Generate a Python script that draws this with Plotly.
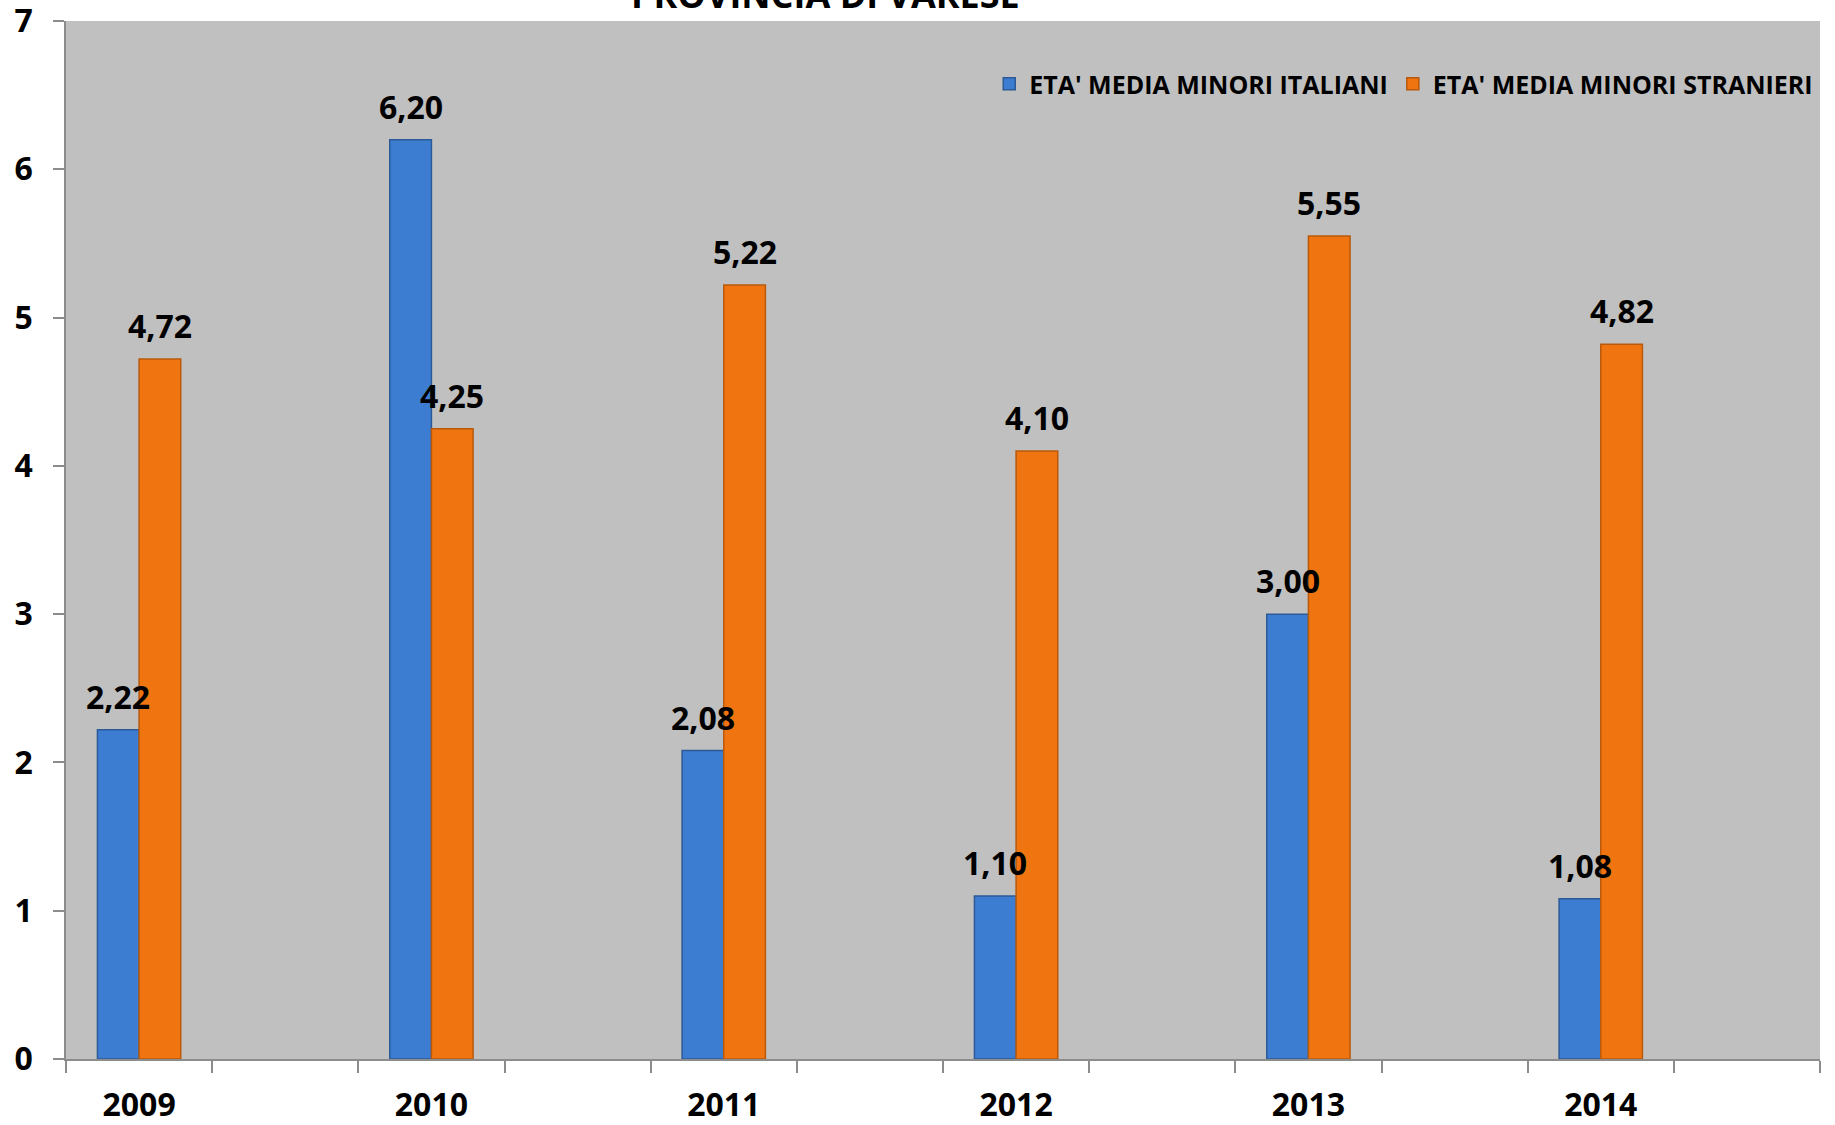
import plotly.graph_objects as go

years = ["2009", "2010", "2011", "2012", "2013", "2014"]
italiani = [2.22, 6.20, 2.08, 1.10, 3.00, 1.08]
stranieri = [4.72, 4.25, 5.22, 4.10, 5.55, 4.82]
series_names = ["ETA' MEDIA MINORI ITALIANI", "ETA' MEDIA MINORI STRANIERI"]
title_text = "PROVINCIA DI VARESE"
y_ticks = [0, 1, 2, 3, 4, 5, 6, 7]

FONT = "Open Sans"
BLUE = "#3C7DD2"
BLUE_EDGE = "#2C5A96"
ORANGE = "#F07510"
ORANGE_EDGE = "#B9590B"
AXIS = "#8C8C8C"

# every year sits in a slot followed by an empty slot (12 slots in total)
xpos = [2 * i for i in range(len(years))]
n_slots = 2 * len(years)

fig = go.Figure()
fig.add_trace(go.Bar(x=xpos, y=italiani, name=series_names[0],
                     marker=dict(color=BLUE, line=dict(color=BLUE_EDGE, width=1.5))))
fig.add_trace(go.Bar(x=xpos, y=stranieri, name=series_names[1],
                     marker=dict(color=ORANGE, line=dict(color=ORANGE_EDGE, width=1.5))))

def fmt(v):
    return f"{v:.2f}".replace(".", ",")

off = 0.285 / 2
annotations = []
for xp, a, b in zip(xpos, italiani, stranieri):
    for dx, v in ((-off, a), (off, b)):
        annotations.append(dict(x=xp + dx, y=v, xref="x", yref="y", text=fmt(v),
                                showarrow=False, yanchor="bottom", yshift=10,
                                font=dict(family=FONT, size=32, color="black", weight="bold")))

annotations.append(dict(x=0.433, y=1 + 26 / 1038, xref="paper", yref="paper", text=title_text,
                        showarrow=False, xanchor="center", yanchor="middle",
                        font=dict(family=FONT, size=36, color="black", weight="bold")))

fig.update_layout(
    width=1835, height=1125,
    margin=dict(l=66, r=15, t=21, b=66, autoexpand=False),
    paper_bgcolor="white", plot_bgcolor="#C0C0C0",
    barmode="group", bargap=0.715, bargroupgap=0,
    font=dict(family=FONT, color="black"),
    showlegend=True,
    legend=dict(orientation="h", x=0.999, xanchor="right", y=1 - 63 / 1038, yanchor="middle",
                bgcolor="rgba(0,0,0,0)",
                font=dict(family=FONT, size=25, color="black", weight="bold")),
    annotations=annotations,
)
fig.update_xaxes(range=[-0.5, n_slots - 0.5], tickvals=xpos, ticktext=years, ticks="",
                 tickfont=dict(family=FONT, size=32, color="black", weight="bold"),
                 showline=True, linecolor=AXIS, linewidth=1.5, showgrid=False, zeroline=False,
                 ticklabelstandoff=17, ticklabeloverflow="allow",
                 minor=dict(tickvals=[i - 0.5 for i in range(n_slots + 1)], ticks="outside",
                            ticklen=12, tickcolor=AXIS, tickwidth=1.5, showgrid=False))
fig.update_yaxes(range=[0, 7], tickvals=y_ticks, ticks="outside", ticklen=11, tickcolor=AXIS,
                 tickwidth=1.5, showline=True, linecolor=AXIS, linewidth=1.5, showgrid=False,
                 zeroline=False, ticklabelstandoff=14, ticklabeloverflow="allow",
                 tickfont=dict(family=FONT, size=32, color="black", weight="bold"))

fig.write_html("out.html", config={"displayModeBar": False},
               post_script="document.body.style.margin='0';document.body.style.padding='0';")
